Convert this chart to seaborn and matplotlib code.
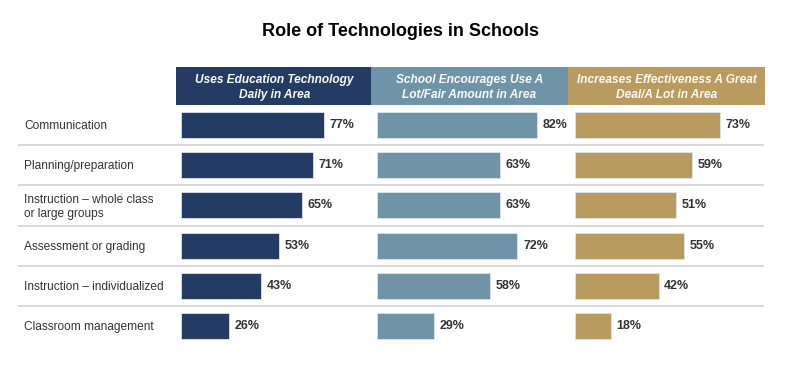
import matplotlib
matplotlib.use('Agg')
import matplotlib.pyplot as plt
import pandas as pd
import seaborn as sns

sns.set_style('white')
plt.rcParams['font.family'] = ['Liberation Sans', 'DejaVu Sans']

categories = ['Communication', 'Planning/preparation',
              'Instruction \u2013 whole class\nor large groups',
              'Assessment or grading', 'Instruction \u2013 individualized',
              'Classroom management']
uses_daily = [77, 71, 65, 53, 43, 26]
school_encourages = [82, 63, 63, 72, 58, 29]
increases_effect = [73, 59, 51, 55, 42, 18]

headers = ['Uses Education Technology\nDaily in Area',
           'School Encourages Use A\nLot/Fair Amount in Area',
           'Increases Effectiveness A Great\nDeal/A Lot in Area']
colors = ['#243c64', '#6f94a7', '#b99b60']

W, H = 800, 366
fig = plt.figure(figsize=(8, 3.66), dpi=100)

def px(x0, y0, x1, y1):
    # pixel box (top-left origin) -> figure fraction rect
    return [x0 / W, 1 - y1 / H, (x1 - x0) / W, (y1 - y0) / H]

rows_top, rows_bot = 105, 346

# background: row labels and separators
bg = fig.add_axes(px(18, rows_top, 764, rows_bot))
bg.set_xlim(0, 1)
bg.set_ylim(len(categories) - 0.5, -0.5)
bg.axis('off')
for i in range(len(categories) - 1):
    bg.axhline(i + 0.5, color='#d2d2d2', lw=1.2)
for i, c in enumerate(categories):
    bg.text(6 / 746, i + 0.03, c, va='center', ha='left', fontsize=8.6,
            color='#333333', linespacing=1.2)

panels = [uses_daily, school_encourages, increases_effect]
lefts = [176, 371, 568]
xlims = [(-2.7, 102.9), (-3.1, 97.4), (-3.5, 95.0)]

for vals, left, col, head, xl in zip(panels, lefts, colors, headers, xlims):
    df = pd.DataFrame({'cat': categories, 'val': vals})
    ax = fig.add_axes(px(left, rows_top, left + 196, rows_bot))
    ax.patch.set_alpha(0)
    sns.barplot(data=df, x='val', y='cat', orient='h', color=col,
                width=0.65, saturation=1, edgecolor='#dde3ea', linewidth=0.6, ax=ax)
    ax.set_xlim(*xl)
    ax.set_ylim(len(categories) - 0.5, -0.5)
    ax.bar_label(ax.containers[0], labels=[f'{v}%' for v in vals], padding=4,
                 fontsize=9, fontweight='bold', color='#333333')
    ax.axis('off')

    hx = fig.add_axes(px(left, 67, left + 197, 105))
    hx.set_facecolor(col)
    hx.set_xticks([])
    hx.set_yticks([])
    for s in hx.spines.values():
        s.set_visible(False)
    hx.text(0.5, 0.46, head, ha='center', va='center', color='#fbfaf6',
            fontsize=8.6, fontweight='bold', fontstyle='italic',
            linespacing=1.25, transform=hx.transAxes)

fig.text(401 / W, 1 - 32 / H, 'Role of Technologies in Schools', ha='center',
         va='center', fontsize=13, fontweight='bold', color='black')

fig.savefig('out.png', dpi=100)
